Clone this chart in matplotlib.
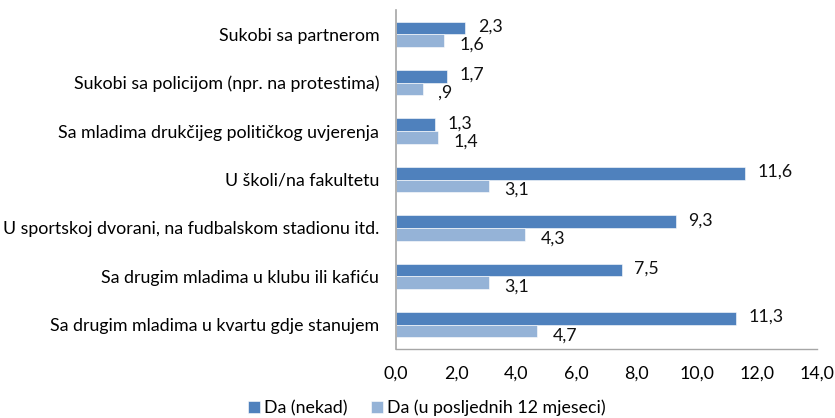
import matplotlib
matplotlib.use("Agg")
import matplotlib.pyplot as plt
import numpy as np

categories = [
    "Sukobi sa partnerom",
    "Sukobi sa policijom (npr. na protestima)",
    "Sa mladima drukčijeg političkog uvjerenja",
    "U školi/na fakultetu",
    "U sportskoj dvorani, na fudbalskom stadionu itd.",
    "Sa drugim mladima u klubu ili kafiću",
    "Sa drugim mladima u kvartu gdje stanujem",
]
nekad = [2.3, 1.7, 1.3, 11.6, 9.3, 7.5, 11.3]
posljednjih12 = [1.6, 0.9, 1.4, 3.1, 4.3, 3.1, 4.7]
series_names = ["Da (nekad)", "Da (u posljednih 12 mjeseci)"]
xticks = [0, 2, 4, 6, 8, 10, 12, 14]

plt.rcParams['font.family'] = ['Lato', 'DejaVu Sans']
FS = 12.8

def fmt(v):
    s = f"{v:.1f}".replace(".", ",")
    if s.startswith("0,"):
        s = s[1:]
    return s

fig = plt.figure(figsize=(8.35, 4.18), dpi=100)
ax = fig.add_axes([396/835, 1-349/418, (817-396)/835, (349-10)/418])

n = len(categories)
y = np.arange(n)
h = 0.26
c1 = "#4F81BD"
c2 = "#95B3D7"
b1 = ax.barh(y - h/2, nekad, height=h, color=c1, edgecolor="white", linewidth=0.4, label=series_names[0])
b2 = ax.barh(y + h/2, posljednjih12, height=h, color=c2, edgecolor="white", linewidth=0.4, label=series_names[1])

for yi, v in zip(y, nekad):
    ax.annotate(fmt(v), (v, yi - h/2), xytext=(9, 1), textcoords="offset points",
                va="center", ha="left", fontsize=FS, color="#111111")
for yi, v in zip(y, posljednjih12):
    ax.annotate(fmt(v), (v, yi + h/2), xytext=(11, -3), textcoords="offset points",
                va="center", ha="left", fontsize=FS, color="#111111")

ax.set_ylim(n - 0.5, -0.5)
ax.set_xlim(0, 14)
ax.set_xticks(xticks)
ax.set_xticklabels([f"{t:.1f}".replace(".", ",") for t in xticks], fontsize=FS)
ax.set_yticks(y)
ax.set_yticklabels(categories, fontsize=FS)
ax.tick_params(axis="y", length=0, pad=12)
ax.tick_params(axis="x", length=0, pad=12)
for s in ["top", "right"]:
    ax.spines[s].set_visible(False)
ax.spines["left"].set_color("#A6A6A6")
ax.spines["bottom"].set_color("#A6A6A6")
ax.spines["left"].set_linewidth(1.2)
ax.spines["bottom"].set_linewidth(1.0)

fig.legend(handles=[b1, b2], labels=series_names, loc="center", bbox_to_anchor=(0.511, 1-408/418),
           ncol=2, frameon=False, fontsize=FS, handlelength=0.7, handleheight=0.7,
           handletextpad=0.2, columnspacing=1.33)

fig.savefig("out.png", dpi=100)
